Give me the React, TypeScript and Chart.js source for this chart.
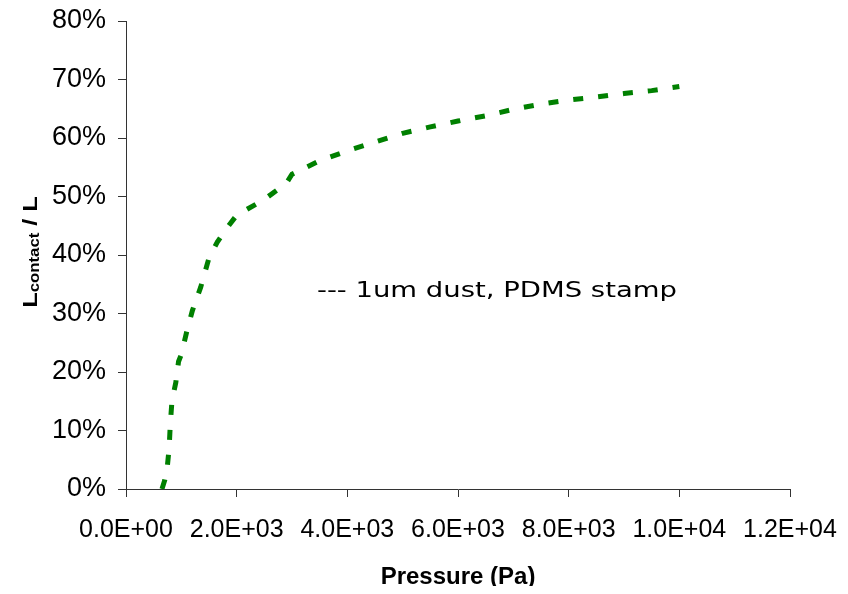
import React, { useEffect, useRef } from "react";
import { Chart, registerables } from "chart.js";

Chart.register(...registerables);

// ---- Data ----
const pressurePa = [
  650, 700, 740, 780, 800, 830, 900, 950, 1000, 1100, 1200, 1350, 1500, 1650,
  1800, 2000, 2500, 2900, 3000, 3500, 4000, 4500, 5000, 5500, 6000, 6500,
  7000, 7500, 8000, 8500, 9000, 9500, 10000,
];
const contactPct = [
  0, 1.5, 3.2, 7, 11, 15, 18.2, 21.8, 23, 27, 30.5, 34.5, 39.5, 42.2, 44.3,
  46.8, 49.5, 52.3, 53.8, 56.1, 57.8, 59.3, 60.8, 61.9, 62.9, 63.8, 64.9,
  65.8, 66.5, 67.0, 67.6, 68.1, 68.8,
];
const xTickValues = [0, 2000, 4000, 6000, 8000, 10000, 12000];
const yTickValues = [0, 10, 20, 30, 40, 50, 60, 70, 80];
const seriesLabel = "--- 1um dust, PDMS stamp";
const xTitle = "Pressure (Pa)";
const yTitleMain = "L";
const yTitleSub = "contact";
const yTitleTail = " / L";

const LINE_COLOR = "#008000";
const AXIS_COLOR = "#333333";
const TICK_FONT = "'Liberation Sans Narrow', 'Liberation Sans', Arial, sans-serif";

function fmtExp(v: number): string {
  const [m, e] = Number(v).toExponential(1).split("e");
  const n = parseInt(e, 10);
  return m + "E" + (n < 0 ? "-" : "+") + String(Math.abs(n)).padStart(2, "0");
}

const textPlugin = {
  id: "customTexts",
  afterDraw(chart: any) {
    const { ctx, chartArea } = chart;
    // Y axis title with subscript, rotated
    ctx.save();
    ctx.fillStyle = "#000";
    ctx.textBaseline = "alphabetic";
    ctx.textAlign = "left";
    const bigFont = "bold 21px 'Liberation Sans', Arial, sans-serif";
    const smallFont = "bold 14px 'Liberation Sans', Arial, sans-serif";
    ctx.font = bigFont;
    const wMain = ctx.measureText(yTitleMain).width;
    const wTail = ctx.measureText(yTitleTail).width;
    ctx.font = smallFont;
    const wSub = ctx.measureText(yTitleSub).width;
    const total = wMain + wSub + wTail;
    ctx.translate(29, chartArea.top + 231);
    ctx.rotate(-Math.PI / 2);
    ctx.scale(1.2, 1);
    let x = -total / 2;
    ctx.font = bigFont;
    ctx.fillText(yTitleMain, x, 0);
    x += wMain;
    ctx.font = smallFont;
    ctx.fillText(yTitleSub, x, 2);
    x += wSub;
    ctx.font = bigFont;
    ctx.fillText(yTitleTail, x, 0);
    ctx.restore();

    // In-plot series label
    ctx.save();
    ctx.fillStyle = "#000";
    ctx.textBaseline = "alphabetic";
    ctx.textAlign = "left";
    ctx.font = "22px 'DejaVu Sans', Verdana, sans-serif";
    const w = ctx.measureText(seriesLabel).width;
    ctx.translate(chartArea.left + 191, chartArea.top + 276);
    ctx.scale(360 / w, 1);
    ctx.fillText(seriesLabel, 0, 0);
    ctx.restore();
  },
};

export default function App() {
  const canvasRef = useRef<HTMLCanvasElement | null>(null);

  useEffect(() => {
    const canvas = canvasRef.current;
    if (!canvas) return;
    const chart = new Chart(canvas, {
      type: "line",
      data: {
        datasets: [
          {
            label: seriesLabel,
            data: pressurePa.map((p, i) => ({ x: p, y: contactPct[i] })),
            borderColor: LINE_COLOR,
            backgroundColor: LINE_COLOR,
            borderWidth: 5,
            borderDash: [10, 15],
            borderCapStyle: "butt",
            pointRadius: 0,
            tension: 0,
            fill: false,
          },
        ],
      },
      options: {
        responsive: false,
        animation: false,
        events: [],
        layout: { padding: { left: 0, right: 50, top: 13, bottom: 0 } },
        plugins: {
          legend: { display: false },
          tooltip: { enabled: false },
          title: { display: false },
        },
        scales: {
          x: {
            type: "linear",
            min: 0,
            max: 12000,
            afterBuildTicks: (s: any) => {
              s.ticks = xTickValues.map((v) => ({ value: v }));
            },
            afterFit: (s: any) => {
              s.height = 105;
              s.paddingLeft = 0;
              s.paddingRight = 0;
            },
            ticks: {
              callback: (v: any) => fmtExp(Number(v)),
              font: { family: TICK_FONT, size: 25 },
              color: "#000",
              padding: 18,
              maxRotation: 0,
              autoSkip: false,
            },
            grid: {
              drawOnChartArea: false,
              drawTicks: true,
              tickLength: 8,
              color: AXIS_COLOR,
              lineWidth: 1,
            },
            border: { display: true, color: AXIS_COLOR, width: 1 },
            title: {
              display: true,
              text: xTitle,
              color: "#000",
              font: { family: "'Liberation Sans', Arial, sans-serif", size: 24, weight: "bold" },
              padding: { top: 0, bottom: 2 },
            },
          },
          y: {
            type: "linear",
            min: 0,
            max: 80,
            afterBuildTicks: (s: any) => {
              s.ticks = yTickValues.map((v) => ({ value: v }));
            },
            afterFit: (s: any) => {
              s.width = 118;
              s.paddingTop = 0;
              s.paddingBottom = 0;
            },
            ticks: {
              callback: (v: any) => `${v}%`,
              font: { family: TICK_FONT, size: 27 },
              color: "#000",
              padding: 12,
              autoSkip: false,
            },
            grid: {
              drawOnChartArea: false,
              drawTicks: true,
              tickLength: 8,
              color: AXIS_COLOR,
              lineWidth: 1,
            },
            border: { display: true, color: AXIS_COLOR, width: 1 },
          },
        },
      },
      plugins: [textPlugin],
    } as any);
    return () => chart.destroy();
  }, []);

  return (
    <canvas
      ref={canvasRef}
      width={832}
      height={586}
      style={{ display: "block", width: 832, height: 586, marginBottom: -8 }}
    />
  );
}
